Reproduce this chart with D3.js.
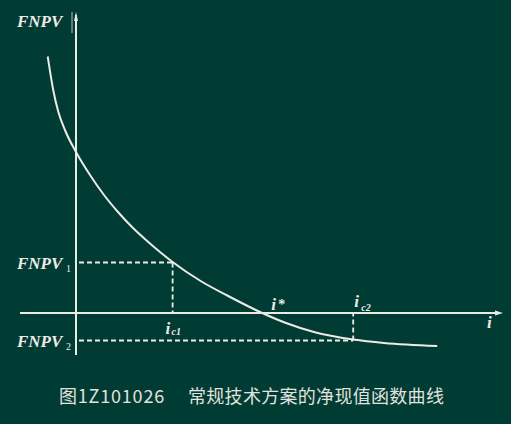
<!DOCTYPE html>
<html>
<head>
<meta charset="utf-8">
<script src="https://cdn.jsdelivr.net/npm/d3@7/dist/d3.min.js"></script>
<style>
  body { margin: 0; background: #003b34; }
  svg { display: block; }
</style>
</head>
<body>
<div id="zone"></div>
<script>
(function() {

  "use strict";

  // courbe FNPV(i) (i en %, FNPV en unités arbitraires)
  var tauxI = [-2.02, -1.62, -1.26, -0.79, 0, 1, 2, 3, 4, 5, 6, 6.9, 8.9, 10.8, 13.3, 15, 17, 19.8, 22, 25.8];
  var valeursFNPV = [51.3, 44.5, 40.2, 36.6, 32.2, 27.6, 23.6, 20.2, 17.2, 14.6, 12.2, 10.2, 6.4, 3.5, 0, -2, -3.8, -5.3, -6, -6.6];

  // points de repère : i_c1, i_c2 et les valeurs FNPV1, FNPV2
  var repereI = [6.9, 19.8];
  var repereFNPV = [10.1, -5.5];
  var repereNoms = ["1", "2"];
  var iEtoile = 13.3;

  // étendue des axes
  var domaineI = [-4, 30.5];
  var domaineFNPV = [-8.4, 60.2];

  var titreFigure = "图1Z101026";
  var titreTexte = "常规技术方案的净现值函数曲线";

  var largeur = 511;
  var hauteur = 424;
  var couleurTrait = "#ecebe4";
  var policeMath = "'Liberation Serif', 'DejaVu Serif', serif";

  var svg = d3.select("#zone")
    .append("svg")
    .attr("width", largeur)
    .attr("height", hauteur);

  svg.append("rect")
    .attr("width", largeur)
    .attr("height", hauteur)
    .attr("fill", "#003b34");

  var x = d3.scaleLinear().domain(domaineI).range([20, 503]);
  var y = d3.scaleLinear().domain(domaineFNPV).range([355, 12]);

  ////// axes //////
  var axes = svg.append("g").attr("id", "axes");

  // trait gris parasite du scan à gauche de la flèche
  axes.append("line")
    .attr("x1", x(0) - 4).attr("x2", x(0) - 4)
    .attr("y1", y(domaineFNPV[1])).attr("y2", y(domaineFNPV[1]) + 21)
    .attr("stroke", "#9fa9a4")
    .attr("stroke-width", 1.2);

  // axe vertical
  axes.append("line")
    .attr("x1", x(0)).attr("x2", x(0))
    .attr("y1", y(domaineFNPV[1]) + 3).attr("y2", y(domaineFNPV[0]))
    .attr("stroke", couleurTrait)
    .attr("stroke-width", 2);

  axes.append("path")
    .attr("d", "M" + x(0) + "," + y(domaineFNPV[1]) +
      "l-2,9 l4,0 z")
    .attr("fill", couleurTrait);

  // axe horizontal
  axes.append("line")
    .attr("x1", x(domaineI[0])).attr("x2", x(domaineI[1]) - 4)
    .attr("y1", y(0)).attr("y2", y(0))
    .attr("stroke", couleurTrait)
    .attr("stroke-width", 2);

  axes.append("path")
    .attr("d", "M" + x(domaineI[1]) + "," + y(0) +
      "l-8,-2.5 l0,5 z")
    .attr("fill", couleurTrait);

  ////// lignes pointillées //////
  var tirets = svg.append("g").attr("id", "tirets")
    .attr("stroke", couleurTrait)
    .attr("stroke-width", 1.8)
    .attr("stroke-dasharray", "5,3")
    .attr("fill", "none");

  repereI.forEach(function(valI, k) {
    // horizontale depuis l'axe vertical
    tirets.append("line")
      .attr("x1", x(0) + 3).attr("x2", x(valI))
      .attr("y1", y(repereFNPV[k])).attr("y2", y(repereFNPV[k]));
    // verticale jusqu'à l'axe des i
    tirets.append("line")
      .attr("x1", x(valI)).attr("x2", x(valI))
      .attr("y1", y(repereFNPV[k])).attr("y2", y(0));
  });

  ////// courbe //////
  var ligne = d3.line()
    .x(function(d, k) { return x(tauxI[k]); })
    .y(function(d) { return y(d); })
    .curve(d3.curveMonotoneX);

  svg.append("path")
    .datum(valeursFNPV)
    .attr("d", ligne)
    .attr("fill", "none")
    .attr("stroke", couleurTrait)
    .attr("stroke-width", 2);

  ////// étiquettes //////
  var etiquettes = svg.append("g")
    .attr("fill", couleurTrait)
    .attr("font-family", policeMath)
    .attr("font-style", "italic")
    .attr("font-weight", "bold");

  etiquettes.append("text")
    .attr("x", 17).attr("y", 27)
    .attr("font-size", 17)
    .text("FNPV");

  repereFNPV.forEach(function(valF, k) {
    etiquettes.append("text")
      .attr("x", 17).attr("y", y(valF) + 6)
      .attr("font-size", 17)
      .text("FNPV");
    etiquettes.append("text")
      .attr("x", 66).attr("y", y(valF) + 9)
      .attr("font-size", 10)
      .attr("font-style", "normal")
      .attr("font-weight", "normal")
      .text(repereNoms[k]);
  });

  // i_c1 sous l'axe, i_c2 au-dessus
  etiquettes.append("text")
    .attr("x", x(repereI[0]) - 7).attr("y", y(0) + 21)
    .attr("font-size", 17)
    .text("i");
  etiquettes.append("text")
    .attr("x", x(repereI[0]) - 1).attr("y", y(0) + 22)
    .attr("font-size", 10)
    .text("c1");

  etiquettes.append("text")
    .attr("x", x(repereI[1]) + 1).attr("y", y(0) - 6)
    .attr("font-size", 17)
    .text("i");
  etiquettes.append("text")
    .attr("x", x(repereI[1]) + 8).attr("y", y(0) - 2)
    .attr("font-size", 10)
    .text("c2");

  etiquettes.append("text")
    .attr("x", x(iEtoile) + 9).attr("y", y(0) - 3)
    .attr("font-size", 17)
    .text("i");
  etiquettes.append("text")
    .attr("x", x(iEtoile) + 16).attr("y", y(0) - 4)
    .attr("font-size", 14)
    .attr("font-style", "normal")
    .text("*");

  etiquettes.append("text")
    .attr("x", x(domaineI[1]) - 16).attr("y", y(0) + 15)
    .attr("font-size", 17)
    .text("i");

  ////// titre //////
  var titre = svg.append("g")
    .attr("fill", "#e2e2de")
    .attr("font-family", "'Noto Sans CJK SC', sans-serif")
    .attr("font-size", 18);

  titre.append("text")
    .attr("x", 59).attr("y", 403)
    .attr("letter-spacing", 0.8)
    .text(titreFigure);

  titre.append("text")
    .attr("x", 188).attr("y", 403)
    .attr("letter-spacing", 0.3)
    .text(titreTexte);

})();
</script>
</body>
</html>
